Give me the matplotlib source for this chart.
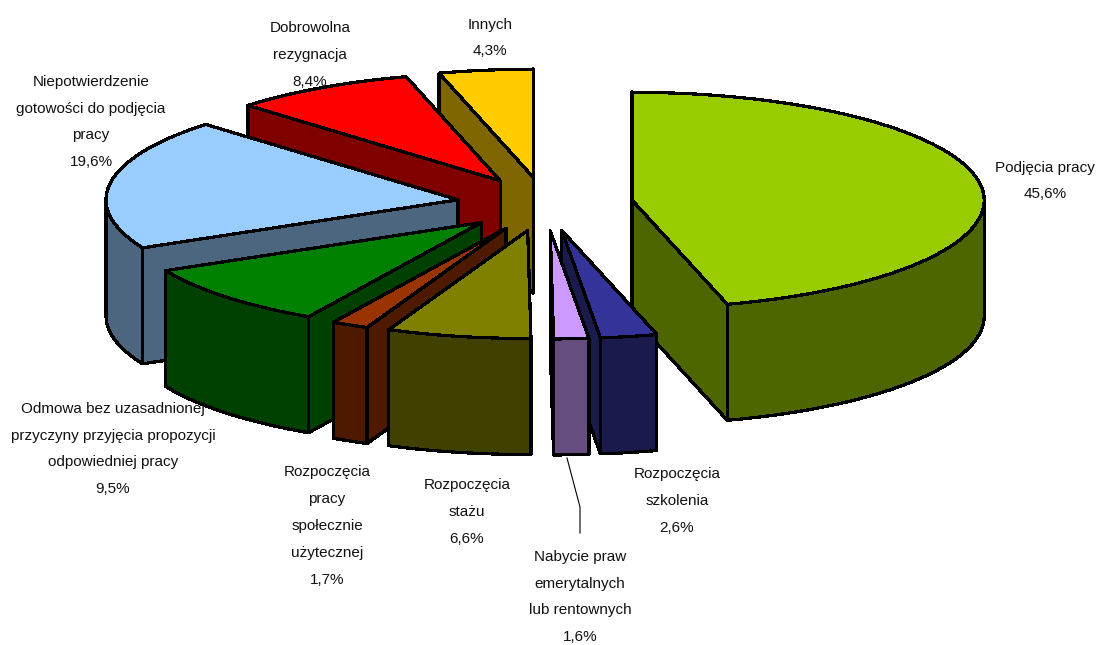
import numpy as np
import matplotlib
matplotlib.use("Agg")
import matplotlib.pyplot as plt
from matplotlib.patches import Polygon

names = ["Podjęcia pracy", "Rozpoczęcia\nszkolenia", "Nabycie praw\nemerytalnych\nlub rentownych",
         "Rozpoczęcia\nstażu", "Rozpoczęcia\npracy\nspołecznie\nużytecznej",
         "Odmowa bez uzasadnionej\nprzyczyny przyjęcia propozycji\nodpowiedniej pracy",
         "Niepotwierdzenie\ngotowości do podjęcia\npracy", "Dobrowolna\nrezygnacja", "Innych"]
values = [45.6, 2.6, 1.6, 6.6, 1.7, 9.5, 19.6, 8.4, 4.3]
top_colors = ["#99CC00", "#333399", "#CC99FF", "#808000", "#993300", "#008000", "#99CCFF", "#FF0000", "#FFCC00"]
side_colors = ["#4D6600", "#1A1A4D", "#664D80", "#404000", "#4D1A00", "#004000", "#4D6680", "#800000", "#806600"]
label_pos = [(1045, 181), (677, 501), (580, 597), (467, 512), (327, 526), (113, 449), (91, 122), (310, 55), (490, 38)]

CX, CY, RX, RY, H, EXPLODE = 545, 204, 352, 108, 116, 0.25

fig = plt.figure(figsize=(10.99, 6.45), dpi=100)
ax = fig.add_axes([0, 0, 1, 1])
ax.set_xlim(0, 1099)
ax.set_ylim(645, 0)
ax.axis("off")


def pt(deg, ox, oy):
    a = np.radians(deg)
    return ox + RX * np.sin(a), oy - RY * np.cos(a)


def poly(xy, color, z):
    ax.add_patch(Polygon(xy, closed=True, facecolor=color, edgecolor="black", linewidth=1.6,
                         antialiased=False, joinstyle="round", zorder=z))


total = sum(values)
bounds = 360 * np.concatenate([[0], np.cumsum(values)]) / total
order = [8, 7, 6, 5, 4, 3, 0, 1, 2]

for z, i in enumerate(order):
    a0, a1 = bounds[i], bounds[i + 1]
    mid = (a0 + a1) / 2
    ox = CX + EXPLODE * RX * np.sin(np.radians(mid))
    oy = CY - EXPLODE * RY * np.cos(np.radians(mid))
    base = z * 10
    # the cut face whose outer edge sits lower on screen faces the viewer: paint it last
    faces = sorted((a0, a1), key=lambda a: pt(a, ox, oy)[1])
    for k, a in enumerate(faces):
        x, y = pt(a, ox, oy)
        poly([(ox, oy), (x, y), (x, y + H), (ox, oy + H)], side_colors[i], base + k)
    w0, w1 = max(a0, 90), min(a1, 270)
    if w1 > w0:
        th = np.linspace(w0, w1, 120)
        xs, ys = pt(th, ox, oy)
        wall = np.vstack([np.column_stack([xs, ys]), np.column_stack([xs, ys + H])[::-1]])
        poly(wall, side_colors[i], base + 2)
    th = np.linspace(a0, a1, 200)
    xs, ys = pt(th, ox, oy)
    poly(np.vstack([[ox, oy], np.column_stack([xs, ys])]), top_colors[i], base + 3)

for name, v, (x, y) in zip(names, values, label_pos):
    ax.text(x, y, f"{name}\n{v:.1f}%".replace(".", ","), ha="center", va="center",
            family=["Liberation Sans Narrow", "Liberation Sans"], fontsize=11, linespacing=2.17,
            color="#111111", zorder=200)

ax.plot([567, 580, 580], [458, 507, 533], color="black", lw=0.8, zorder=150)
fig.savefig("out.png", dpi=100)
